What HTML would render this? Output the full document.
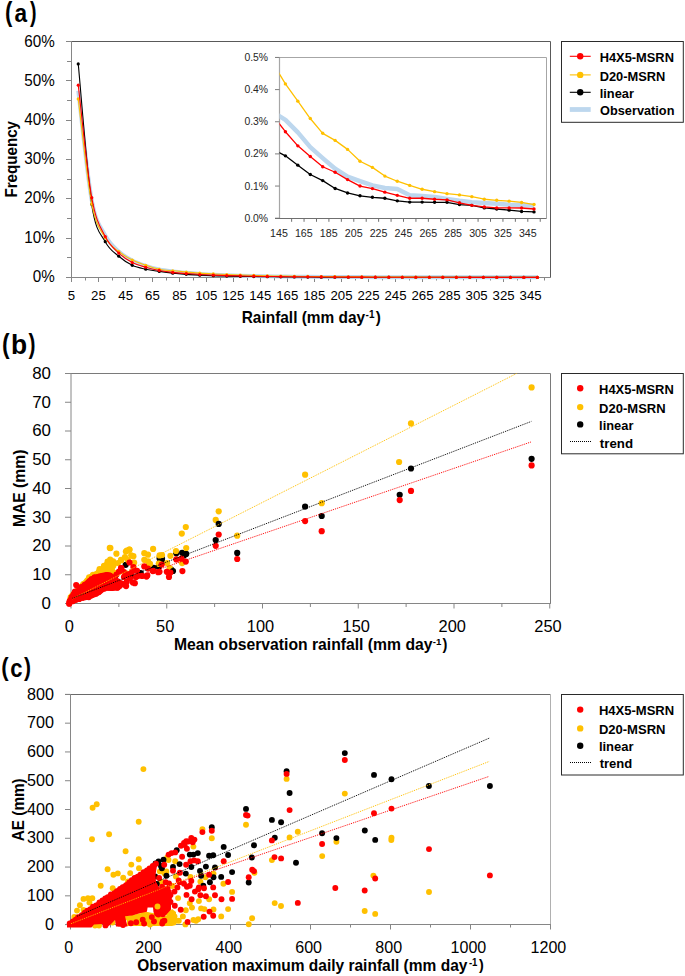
<!DOCTYPE html>
<html><head><meta charset="utf-8"><style>
html,body{margin:0;padding:0;background:#fff;}
svg{display:block;font-family:"Liberation Sans", sans-serif;}
</style></head><body>
<svg width="685" height="976" viewBox="0 0 685 976">
<rect width="685" height="976" fill="#fff"/>
<path d="M66,41.5 H550.5 V277.5" fill="none" stroke="#595959" stroke-width="1"/>
<line x1="71.50" y1="41.00" x2="71.50" y2="278.00" stroke="#868686" stroke-width="1" />
<line x1="66.00" y1="277.50" x2="71.50" y2="277.50" stroke="#868686" stroke-width="1" />
<line x1="67.00" y1="257.50" x2="71.50" y2="257.50" stroke="#868686" stroke-width="1" />
<line x1="66.00" y1="238.50" x2="71.50" y2="238.50" stroke="#868686" stroke-width="1" />
<line x1="67.00" y1="218.50" x2="71.50" y2="218.50" stroke="#868686" stroke-width="1" />
<line x1="66.00" y1="198.50" x2="71.50" y2="198.50" stroke="#868686" stroke-width="1" />
<line x1="67.00" y1="179.50" x2="71.50" y2="179.50" stroke="#868686" stroke-width="1" />
<line x1="66.00" y1="159.50" x2="71.50" y2="159.50" stroke="#868686" stroke-width="1" />
<line x1="67.00" y1="139.50" x2="71.50" y2="139.50" stroke="#868686" stroke-width="1" />
<line x1="66.00" y1="120.50" x2="71.50" y2="120.50" stroke="#868686" stroke-width="1" />
<line x1="67.00" y1="100.50" x2="71.50" y2="100.50" stroke="#868686" stroke-width="1" />
<line x1="66.00" y1="80.50" x2="71.50" y2="80.50" stroke="#868686" stroke-width="1" />
<line x1="67.00" y1="61.50" x2="71.50" y2="61.50" stroke="#868686" stroke-width="1" />
<line x1="66.00" y1="41.50" x2="71.50" y2="41.50" stroke="#868686" stroke-width="1" />
<line x1="71.00" y1="277.50" x2="551.00" y2="277.50" stroke="#868686" stroke-width="1" />
<line x1="71.50" y1="277.50" x2="71.50" y2="282.00" stroke="#868686" stroke-width="1" />
<line x1="85.50" y1="277.50" x2="85.50" y2="280.50" stroke="#868686" stroke-width="1" />
<line x1="98.50" y1="277.50" x2="98.50" y2="282.00" stroke="#868686" stroke-width="1" />
<line x1="112.50" y1="277.50" x2="112.50" y2="280.50" stroke="#868686" stroke-width="1" />
<line x1="125.50" y1="277.50" x2="125.50" y2="282.00" stroke="#868686" stroke-width="1" />
<line x1="139.50" y1="277.50" x2="139.50" y2="280.50" stroke="#868686" stroke-width="1" />
<line x1="152.50" y1="277.50" x2="152.50" y2="282.00" stroke="#868686" stroke-width="1" />
<line x1="166.50" y1="277.50" x2="166.50" y2="280.50" stroke="#868686" stroke-width="1" />
<line x1="179.50" y1="277.50" x2="179.50" y2="282.00" stroke="#868686" stroke-width="1" />
<line x1="193.50" y1="277.50" x2="193.50" y2="280.50" stroke="#868686" stroke-width="1" />
<line x1="206.50" y1="277.50" x2="206.50" y2="282.00" stroke="#868686" stroke-width="1" />
<line x1="220.50" y1="277.50" x2="220.50" y2="280.50" stroke="#868686" stroke-width="1" />
<line x1="233.50" y1="277.50" x2="233.50" y2="282.00" stroke="#868686" stroke-width="1" />
<line x1="247.50" y1="277.50" x2="247.50" y2="280.50" stroke="#868686" stroke-width="1" />
<line x1="260.50" y1="277.50" x2="260.50" y2="282.00" stroke="#868686" stroke-width="1" />
<line x1="274.50" y1="277.50" x2="274.50" y2="280.50" stroke="#868686" stroke-width="1" />
<line x1="287.50" y1="277.50" x2="287.50" y2="282.00" stroke="#868686" stroke-width="1" />
<line x1="301.50" y1="277.50" x2="301.50" y2="280.50" stroke="#868686" stroke-width="1" />
<line x1="314.50" y1="277.50" x2="314.50" y2="282.00" stroke="#868686" stroke-width="1" />
<line x1="328.50" y1="277.50" x2="328.50" y2="280.50" stroke="#868686" stroke-width="1" />
<line x1="341.50" y1="277.50" x2="341.50" y2="282.00" stroke="#868686" stroke-width="1" />
<line x1="355.50" y1="277.50" x2="355.50" y2="280.50" stroke="#868686" stroke-width="1" />
<line x1="368.50" y1="277.50" x2="368.50" y2="282.00" stroke="#868686" stroke-width="1" />
<line x1="382.50" y1="277.50" x2="382.50" y2="280.50" stroke="#868686" stroke-width="1" />
<line x1="395.50" y1="277.50" x2="395.50" y2="282.00" stroke="#868686" stroke-width="1" />
<line x1="409.50" y1="277.50" x2="409.50" y2="280.50" stroke="#868686" stroke-width="1" />
<line x1="422.50" y1="277.50" x2="422.50" y2="282.00" stroke="#868686" stroke-width="1" />
<line x1="436.50" y1="277.50" x2="436.50" y2="280.50" stroke="#868686" stroke-width="1" />
<line x1="449.50" y1="277.50" x2="449.50" y2="282.00" stroke="#868686" stroke-width="1" />
<line x1="463.50" y1="277.50" x2="463.50" y2="280.50" stroke="#868686" stroke-width="1" />
<line x1="476.50" y1="277.50" x2="476.50" y2="282.00" stroke="#868686" stroke-width="1" />
<line x1="490.50" y1="277.50" x2="490.50" y2="280.50" stroke="#868686" stroke-width="1" />
<line x1="503.50" y1="277.50" x2="503.50" y2="282.00" stroke="#868686" stroke-width="1" />
<line x1="517.50" y1="277.50" x2="517.50" y2="280.50" stroke="#868686" stroke-width="1" />
<line x1="530.50" y1="277.50" x2="530.50" y2="282.00" stroke="#868686" stroke-width="1" />
<line x1="544.50" y1="277.50" x2="544.50" y2="280.50" stroke="#868686" stroke-width="1" />
<path d="M78.25,90.67 C80.50,108.96 87.25,176.28 91.75,200.41 C96.26,224.53 100.76,226.89 105.26,235.41 C109.76,243.94 114.26,247.34 118.76,251.54 C123.26,255.74 127.76,258.19 132.26,260.59 C136.76,262.98 141.27,264.42 145.77,265.90 C150.27,267.37 154.77,268.52 159.27,269.44 C163.77,270.35 168.27,270.85 172.77,271.40 C177.27,271.96 181.77,272.37 186.28,272.78 C190.78,273.19 195.28,273.57 199.78,273.88 C204.28,274.20 208.78,274.44 213.28,274.67 C217.78,274.90 222.28,275.08 226.78,275.26 C231.29,275.44 235.79,275.60 240.29,275.73 C244.79,275.86 249.29,275.95 253.79,276.04 C258.29,276.14 262.79,276.23 267.29,276.30 C271.79,276.36 276.30,276.39 280.80,276.45 C285.30,276.51 289.80,276.58 294.30,276.63 C298.80,276.68 303.30,276.72 307.80,276.76 C312.30,276.81 316.80,276.86 321.31,276.89 C325.81,276.93 330.31,276.97 334.81,276.99 C339.31,277.02 343.81,277.03 348.31,277.05 C352.81,277.07 357.31,277.09 361.81,277.10 C366.32,277.11 370.82,277.12 375.32,277.13 C379.82,277.14 384.32,277.13 388.82,277.14 C393.32,277.16 397.82,277.20 402.32,277.22 C406.82,277.23 411.33,277.22 415.83,277.23 C420.33,277.23 424.83,277.23 429.33,277.24 C433.83,277.25 438.33,277.26 442.83,277.26 C447.33,277.27 451.83,277.28 456.34,277.29 C460.84,277.29 465.34,277.30 469.84,277.30 C474.34,277.31 478.84,277.31 483.34,277.32 C487.84,277.32 492.34,277.32 496.84,277.32 C501.35,277.33 505.85,277.33 510.35,277.33 C514.85,277.34 519.35,277.34 523.85,277.34 C528.35,277.34 535.10,277.35 537.35,277.35" fill="none" stroke="#BDD7EE" stroke-width="4" stroke-linejoin="round"/>
<path d="M78.25,63.92 C80.50,87.32 87.25,174.71 91.75,204.34 C96.26,233.97 100.76,233.05 105.26,241.71 C109.76,250.36 114.26,252.33 118.76,256.26 C123.26,260.19 127.76,263.14 132.26,265.31 C136.76,267.47 141.27,268.22 145.77,269.24 C150.27,270.26 154.77,270.75 159.27,271.40 C163.77,272.06 168.27,272.68 172.77,273.17 C177.27,273.67 181.77,274.03 186.28,274.35 C190.78,274.68 195.28,274.91 199.78,275.14 C204.28,275.37 208.78,275.57 213.28,275.73 C217.78,275.89 222.28,275.98 226.78,276.08 C231.29,276.19 235.79,276.28 240.29,276.36 C244.79,276.44 249.29,276.49 253.79,276.56 C258.29,276.62 262.79,276.69 267.29,276.74 C271.79,276.79 276.30,276.81 280.80,276.85 C285.30,276.89 289.80,276.93 294.30,276.97 C298.80,277.00 303.30,277.01 307.80,277.04 C312.30,277.07 316.80,277.11 321.31,277.14 C325.81,277.16 330.31,277.18 334.81,277.19 C339.31,277.21 343.81,277.22 348.31,277.23 C352.81,277.24 357.31,277.24 361.81,277.24 C366.32,277.25 370.82,277.25 375.32,277.26 C379.82,277.26 384.32,277.28 388.82,277.29 C393.32,277.30 397.82,277.30 402.32,277.30 C406.82,277.31 411.33,277.30 415.83,277.30 C420.33,277.30 424.83,277.31 429.33,277.31 C433.83,277.31 438.33,277.30 442.83,277.31 C447.33,277.31 451.83,277.33 456.34,277.33 C460.84,277.34 465.34,277.34 469.84,277.34 C474.34,277.35 478.84,277.37 483.34,277.37 C487.84,277.38 492.34,277.38 496.84,277.39 C501.35,277.39 505.85,277.40 510.35,277.40 C514.85,277.41 519.35,277.41 523.85,277.42 C528.35,277.42 535.10,277.42 537.35,277.42" fill="none" stroke="#000000" stroke-width="1.1"/>
<circle cx="78.25" cy="63.92" r="1.6" fill="#000000"/>
<circle cx="91.75" cy="204.34" r="1.6" fill="#000000"/>
<circle cx="105.26" cy="241.71" r="1.6" fill="#000000"/>
<circle cx="118.76" cy="256.26" r="1.6" fill="#000000"/>
<circle cx="132.26" cy="265.31" r="1.6" fill="#000000"/>
<circle cx="145.77" cy="269.24" r="1.6" fill="#000000"/>
<circle cx="159.27" cy="271.40" r="1.6" fill="#000000"/>
<circle cx="172.77" cy="273.17" r="1.6" fill="#000000"/>
<circle cx="186.28" cy="274.35" r="1.6" fill="#000000"/>
<circle cx="199.78" cy="275.14" r="1.6" fill="#000000"/>
<circle cx="213.28" cy="275.73" r="1.6" fill="#000000"/>
<circle cx="226.78" cy="276.08" r="1.6" fill="#000000"/>
<circle cx="240.29" cy="276.36" r="1.6" fill="#000000"/>
<circle cx="253.79" cy="276.56" r="1.6" fill="#000000"/>
<circle cx="267.29" cy="276.74" r="1.6" fill="#000000"/>
<circle cx="280.80" cy="276.85" r="1.6" fill="#000000"/>
<circle cx="294.30" cy="276.97" r="1.6" fill="#000000"/>
<circle cx="307.80" cy="277.04" r="1.6" fill="#000000"/>
<circle cx="321.31" cy="277.14" r="1.6" fill="#000000"/>
<circle cx="334.81" cy="277.19" r="1.6" fill="#000000"/>
<circle cx="348.31" cy="277.23" r="1.6" fill="#000000"/>
<circle cx="361.81" cy="277.24" r="1.6" fill="#000000"/>
<circle cx="375.32" cy="277.26" r="1.6" fill="#000000"/>
<circle cx="388.82" cy="277.29" r="1.6" fill="#000000"/>
<circle cx="402.32" cy="277.30" r="1.6" fill="#000000"/>
<circle cx="415.83" cy="277.30" r="1.6" fill="#000000"/>
<circle cx="429.33" cy="277.31" r="1.6" fill="#000000"/>
<circle cx="442.83" cy="277.31" r="1.6" fill="#000000"/>
<circle cx="456.34" cy="277.33" r="1.6" fill="#000000"/>
<circle cx="469.84" cy="277.34" r="1.6" fill="#000000"/>
<circle cx="483.34" cy="277.37" r="1.6" fill="#000000"/>
<circle cx="496.84" cy="277.39" r="1.6" fill="#000000"/>
<circle cx="510.35" cy="277.40" r="1.6" fill="#000000"/>
<circle cx="523.85" cy="277.42" r="1.6" fill="#000000"/>
<circle cx="537.35" cy="277.42" r="1.6" fill="#000000"/>
<path d="M78.25,98.93 C80.50,116.43 87.25,180.81 91.75,203.95 C96.26,227.09 100.76,229.84 105.26,237.77 C109.76,245.71 114.26,247.84 118.76,251.54 C123.26,255.24 127.76,257.70 132.26,260.00 C136.76,262.29 141.27,263.77 145.77,265.31 C150.27,266.85 154.77,268.32 159.27,269.24 C163.77,270.16 168.27,270.35 172.77,270.81 C177.27,271.27 181.77,271.60 186.28,271.99 C190.78,272.39 195.28,272.85 199.78,273.17 C204.28,273.50 208.78,273.73 213.28,273.96 C217.78,274.19 222.28,274.37 226.78,274.55 C231.29,274.73 235.79,274.91 240.29,275.06 C244.79,275.21 249.29,275.32 253.79,275.45 C258.29,275.59 262.79,275.75 267.29,275.86 C271.79,275.96 276.30,276.00 280.80,276.07 C285.30,276.14 289.80,276.22 294.30,276.28 C298.80,276.35 303.30,276.42 307.80,276.46 C312.30,276.51 316.80,276.52 321.31,276.55 C325.81,276.58 330.31,276.62 334.81,276.66 C339.31,276.70 343.81,276.77 348.31,276.80 C352.81,276.84 357.31,276.85 361.81,276.88 C366.32,276.91 370.82,276.96 375.32,276.98 C379.82,277.01 384.32,277.03 388.82,277.05 C393.32,277.07 397.82,277.08 402.32,277.10 C406.82,277.12 411.33,277.13 415.83,277.15 C420.33,277.16 424.83,277.17 429.33,277.18 C433.83,277.18 438.33,277.19 442.83,277.20 C447.33,277.21 451.83,277.21 456.34,277.22 C460.84,277.22 465.34,277.23 469.84,277.24 C474.34,277.25 478.84,277.26 483.34,277.27 C487.84,277.28 492.34,277.28 496.84,277.28 C501.35,277.29 505.85,277.29 510.35,277.29 C514.85,277.30 519.35,277.30 523.85,277.31 C528.35,277.31 535.10,277.33 537.35,277.33" fill="none" stroke="#FFC000" stroke-width="1.1"/>
<circle cx="78.25" cy="98.93" r="1.6" fill="#FFC000"/>
<circle cx="91.75" cy="203.95" r="1.6" fill="#FFC000"/>
<circle cx="105.26" cy="237.77" r="1.6" fill="#FFC000"/>
<circle cx="118.76" cy="251.54" r="1.6" fill="#FFC000"/>
<circle cx="132.26" cy="260.00" r="1.6" fill="#FFC000"/>
<circle cx="145.77" cy="265.31" r="1.6" fill="#FFC000"/>
<circle cx="159.27" cy="269.24" r="1.6" fill="#FFC000"/>
<circle cx="172.77" cy="270.81" r="1.6" fill="#FFC000"/>
<circle cx="186.28" cy="271.99" r="1.6" fill="#FFC000"/>
<circle cx="199.78" cy="273.17" r="1.6" fill="#FFC000"/>
<circle cx="213.28" cy="273.96" r="1.6" fill="#FFC000"/>
<circle cx="226.78" cy="274.55" r="1.6" fill="#FFC000"/>
<circle cx="240.29" cy="275.06" r="1.6" fill="#FFC000"/>
<circle cx="253.79" cy="275.45" r="1.6" fill="#FFC000"/>
<circle cx="267.29" cy="275.86" r="1.6" fill="#FFC000"/>
<circle cx="280.80" cy="276.07" r="1.6" fill="#FFC000"/>
<circle cx="294.30" cy="276.28" r="1.6" fill="#FFC000"/>
<circle cx="307.80" cy="276.46" r="1.6" fill="#FFC000"/>
<circle cx="321.31" cy="276.55" r="1.6" fill="#FFC000"/>
<circle cx="334.81" cy="276.66" r="1.6" fill="#FFC000"/>
<circle cx="348.31" cy="276.80" r="1.6" fill="#FFC000"/>
<circle cx="361.81" cy="276.88" r="1.6" fill="#FFC000"/>
<circle cx="375.32" cy="276.98" r="1.6" fill="#FFC000"/>
<circle cx="388.82" cy="277.05" r="1.6" fill="#FFC000"/>
<circle cx="402.32" cy="277.10" r="1.6" fill="#FFC000"/>
<circle cx="415.83" cy="277.15" r="1.6" fill="#FFC000"/>
<circle cx="429.33" cy="277.18" r="1.6" fill="#FFC000"/>
<circle cx="442.83" cy="277.20" r="1.6" fill="#FFC000"/>
<circle cx="456.34" cy="277.22" r="1.6" fill="#FFC000"/>
<circle cx="469.84" cy="277.24" r="1.6" fill="#FFC000"/>
<circle cx="483.34" cy="277.27" r="1.6" fill="#FFC000"/>
<circle cx="496.84" cy="277.28" r="1.6" fill="#FFC000"/>
<circle cx="510.35" cy="277.29" r="1.6" fill="#FFC000"/>
<circle cx="523.85" cy="277.31" r="1.6" fill="#FFC000"/>
<circle cx="537.35" cy="277.33" r="1.6" fill="#FFC000"/>
<path d="M78.25,85.16 C80.50,103.91 87.25,172.42 91.75,197.65 C96.26,222.89 100.76,227.35 105.26,236.59 C109.76,245.84 114.26,248.79 118.76,253.11 C123.26,257.44 127.76,260.19 132.26,262.55 C136.76,264.91 141.27,265.96 145.77,267.27 C150.27,268.58 154.77,269.57 159.27,270.42 C163.77,271.27 168.27,271.86 172.77,272.39 C177.27,272.91 181.77,273.21 186.28,273.57 C190.78,273.93 195.28,274.29 199.78,274.55 C204.28,274.81 208.78,274.96 213.28,275.14 C217.78,275.32 222.28,275.48 226.78,275.61 C231.29,275.74 235.79,275.83 240.29,275.93 C244.79,276.03 249.29,276.12 253.79,276.20 C258.29,276.29 262.79,276.37 267.29,276.44 C271.79,276.51 276.30,276.56 280.80,276.62 C285.30,276.67 289.80,276.70 294.30,276.74 C298.80,276.79 303.30,276.84 307.80,276.87 C312.30,276.90 316.80,276.91 321.31,276.94 C325.81,276.96 330.31,277.00 334.81,277.03 C339.31,277.06 343.81,277.09 348.31,277.11 C352.81,277.13 357.31,277.13 361.81,277.14 C366.32,277.15 370.82,277.17 375.32,277.18 C379.82,277.20 384.32,277.21 388.82,277.22 C393.32,277.23 397.82,277.25 402.32,277.26 C406.82,277.26 411.33,277.25 415.83,277.26 C420.33,277.26 424.83,277.26 429.33,277.27 C433.83,277.27 438.33,277.27 442.83,277.28 C447.33,277.28 451.83,277.30 456.34,277.31 C460.84,277.32 465.34,277.33 469.84,277.34 C474.34,277.35 478.84,277.36 483.34,277.36 C487.84,277.37 492.34,277.37 496.84,277.37 C501.35,277.38 505.85,277.37 510.35,277.37 C514.85,277.37 519.35,277.37 523.85,277.38 C528.35,277.38 535.10,277.39 537.35,277.39" fill="none" stroke="#FF0000" stroke-width="1.1"/>
<circle cx="78.25" cy="85.16" r="1.6" fill="#FF0000"/>
<circle cx="91.75" cy="197.65" r="1.6" fill="#FF0000"/>
<circle cx="105.26" cy="236.59" r="1.6" fill="#FF0000"/>
<circle cx="118.76" cy="253.11" r="1.6" fill="#FF0000"/>
<circle cx="132.26" cy="262.55" r="1.6" fill="#FF0000"/>
<circle cx="145.77" cy="267.27" r="1.6" fill="#FF0000"/>
<circle cx="159.27" cy="270.42" r="1.6" fill="#FF0000"/>
<circle cx="172.77" cy="272.39" r="1.6" fill="#FF0000"/>
<circle cx="186.28" cy="273.57" r="1.6" fill="#FF0000"/>
<circle cx="199.78" cy="274.55" r="1.6" fill="#FF0000"/>
<circle cx="213.28" cy="275.14" r="1.6" fill="#FF0000"/>
<circle cx="226.78" cy="275.61" r="1.6" fill="#FF0000"/>
<circle cx="240.29" cy="275.93" r="1.6" fill="#FF0000"/>
<circle cx="253.79" cy="276.20" r="1.6" fill="#FF0000"/>
<circle cx="267.29" cy="276.44" r="1.6" fill="#FF0000"/>
<circle cx="280.80" cy="276.62" r="1.6" fill="#FF0000"/>
<circle cx="294.30" cy="276.74" r="1.6" fill="#FF0000"/>
<circle cx="307.80" cy="276.87" r="1.6" fill="#FF0000"/>
<circle cx="321.31" cy="276.94" r="1.6" fill="#FF0000"/>
<circle cx="334.81" cy="277.03" r="1.6" fill="#FF0000"/>
<circle cx="348.31" cy="277.11" r="1.6" fill="#FF0000"/>
<circle cx="361.81" cy="277.14" r="1.6" fill="#FF0000"/>
<circle cx="375.32" cy="277.18" r="1.6" fill="#FF0000"/>
<circle cx="388.82" cy="277.22" r="1.6" fill="#FF0000"/>
<circle cx="402.32" cy="277.26" r="1.6" fill="#FF0000"/>
<circle cx="415.83" cy="277.26" r="1.6" fill="#FF0000"/>
<circle cx="429.33" cy="277.27" r="1.6" fill="#FF0000"/>
<circle cx="442.83" cy="277.28" r="1.6" fill="#FF0000"/>
<circle cx="456.34" cy="277.31" r="1.6" fill="#FF0000"/>
<circle cx="469.84" cy="277.34" r="1.6" fill="#FF0000"/>
<circle cx="483.34" cy="277.36" r="1.6" fill="#FF0000"/>
<circle cx="496.84" cy="277.37" r="1.6" fill="#FF0000"/>
<circle cx="510.35" cy="277.37" r="1.6" fill="#FF0000"/>
<circle cx="523.85" cy="277.38" r="1.6" fill="#FF0000"/>
<circle cx="537.35" cy="277.39" r="1.6" fill="#FF0000"/>
<rect x="279.2" y="57.4" width="267.2" height="160.8" fill="#fff"/>
<path d="M275,57.5 H546.5 V218.5" fill="none" stroke="#A6A6A6" stroke-width="1"/>
<line x1="279.50" y1="57.00" x2="279.50" y2="219.00" stroke="#A6A6A6" stroke-width="1.2" />
<line x1="275.00" y1="218.20" x2="279.50" y2="218.20" stroke="#7f7f7f" stroke-width="1" />
<line x1="275.00" y1="186.05" x2="279.50" y2="186.05" stroke="#7f7f7f" stroke-width="1" />
<line x1="275.00" y1="153.90" x2="279.50" y2="153.90" stroke="#7f7f7f" stroke-width="1" />
<line x1="275.00" y1="121.75" x2="279.50" y2="121.75" stroke="#7f7f7f" stroke-width="1" />
<line x1="275.00" y1="89.60" x2="279.50" y2="89.60" stroke="#7f7f7f" stroke-width="1" />
<line x1="275.00" y1="57.45" x2="279.50" y2="57.45" stroke="#7f7f7f" stroke-width="1" />
<line x1="275.00" y1="218.50" x2="546.50" y2="218.50" stroke="#6f6f6f" stroke-width="1" />
<line x1="291.63" y1="218.50" x2="291.63" y2="221.80" stroke="#6f6f6f" stroke-width="1" />
<line x1="304.06" y1="218.50" x2="304.06" y2="221.80" stroke="#6f6f6f" stroke-width="1" />
<line x1="316.49" y1="218.50" x2="316.49" y2="221.80" stroke="#6f6f6f" stroke-width="1" />
<line x1="328.92" y1="218.50" x2="328.92" y2="221.80" stroke="#6f6f6f" stroke-width="1" />
<line x1="341.35" y1="218.50" x2="341.35" y2="221.80" stroke="#6f6f6f" stroke-width="1" />
<line x1="353.78" y1="218.50" x2="353.78" y2="221.80" stroke="#6f6f6f" stroke-width="1" />
<line x1="366.21" y1="218.50" x2="366.21" y2="221.80" stroke="#6f6f6f" stroke-width="1" />
<line x1="378.64" y1="218.50" x2="378.64" y2="221.80" stroke="#6f6f6f" stroke-width="1" />
<line x1="391.07" y1="218.50" x2="391.07" y2="221.80" stroke="#6f6f6f" stroke-width="1" />
<line x1="403.50" y1="218.50" x2="403.50" y2="221.80" stroke="#6f6f6f" stroke-width="1" />
<line x1="415.93" y1="218.50" x2="415.93" y2="221.80" stroke="#6f6f6f" stroke-width="1" />
<line x1="428.36" y1="218.50" x2="428.36" y2="221.80" stroke="#6f6f6f" stroke-width="1" />
<line x1="440.79" y1="218.50" x2="440.79" y2="221.80" stroke="#6f6f6f" stroke-width="1" />
<line x1="453.22" y1="218.50" x2="453.22" y2="221.80" stroke="#6f6f6f" stroke-width="1" />
<line x1="465.65" y1="218.50" x2="465.65" y2="221.80" stroke="#6f6f6f" stroke-width="1" />
<line x1="478.08" y1="218.50" x2="478.08" y2="221.80" stroke="#6f6f6f" stroke-width="1" />
<line x1="490.51" y1="218.50" x2="490.51" y2="221.80" stroke="#6f6f6f" stroke-width="1" />
<line x1="502.94" y1="218.50" x2="502.94" y2="221.80" stroke="#6f6f6f" stroke-width="1" />
<line x1="515.37" y1="218.50" x2="515.37" y2="221.80" stroke="#6f6f6f" stroke-width="1" />
<line x1="527.80" y1="218.50" x2="527.80" y2="221.80" stroke="#6f6f6f" stroke-width="1" />
<line x1="540.23" y1="218.50" x2="540.23" y2="221.80" stroke="#6f6f6f" stroke-width="1" />
<clipPath id="inclip"><rect x="279.5" y="57" width="267" height="161.5"/></clipPath>
<g clip-path="url(#inclip)">
<path d="M272.99,112.10 L285.41,119.82 L297.84,132.36 L310.27,147.15 L322.70,158.08 L335.13,168.69 L347.56,176.73 L360.00,181.23 L372.43,185.41 L384.86,187.98 L397.28,189.01 L409.72,195.21 L422.14,196.02 L434.57,196.98 L447.00,198.91 L459.44,200.84 L471.87,202.12 L484.30,203.09 L496.73,203.73 L509.15,204.70 L521.59,205.02 L534.01,205.79" fill="none" stroke="#BDD7EE" stroke-width="4.5" stroke-linejoin="round"/>
<path d="M272.99,149.40 L285.41,155.83 L297.84,165.15 L310.27,174.48 L322.70,180.58 L335.13,188.46 L347.56,192.93 L360.00,195.82 L372.43,197.30 L384.86,198.27 L397.28,200.84 L409.72,202.12 L422.14,202.12 L434.57,202.32 L447.00,202.32 L459.44,204.54 L471.87,205.34 L484.30,207.91 L496.73,209.01 L509.15,210.16 L521.59,211.45 L534.01,211.90" fill="none" stroke="#000000" stroke-width="1.3" stroke-linejoin="round"/>
<circle cx="285.41" cy="155.83" r="1.7" fill="#000000"/>
<circle cx="297.84" cy="165.15" r="1.7" fill="#000000"/>
<circle cx="310.27" cy="174.48" r="1.7" fill="#000000"/>
<circle cx="322.70" cy="180.58" r="1.7" fill="#000000"/>
<circle cx="335.13" cy="188.46" r="1.7" fill="#000000"/>
<circle cx="347.56" cy="192.93" r="1.7" fill="#000000"/>
<circle cx="360.00" cy="195.82" r="1.7" fill="#000000"/>
<circle cx="372.43" cy="197.30" r="1.7" fill="#000000"/>
<circle cx="384.86" cy="198.27" r="1.7" fill="#000000"/>
<circle cx="397.28" cy="200.84" r="1.7" fill="#000000"/>
<circle cx="409.72" cy="202.12" r="1.7" fill="#000000"/>
<circle cx="422.14" cy="202.12" r="1.7" fill="#000000"/>
<circle cx="434.57" cy="202.32" r="1.7" fill="#000000"/>
<circle cx="447.00" cy="202.32" r="1.7" fill="#000000"/>
<circle cx="459.44" cy="204.54" r="1.7" fill="#000000"/>
<circle cx="471.87" cy="205.34" r="1.7" fill="#000000"/>
<circle cx="484.30" cy="207.91" r="1.7" fill="#000000"/>
<circle cx="496.73" cy="209.01" r="1.7" fill="#000000"/>
<circle cx="509.15" cy="210.16" r="1.7" fill="#000000"/>
<circle cx="521.59" cy="211.45" r="1.7" fill="#000000"/>
<circle cx="534.01" cy="211.90" r="1.7" fill="#000000"/>
<path d="M272.99,63.24 L285.41,83.91 L297.84,101.17 L310.27,118.53 L322.70,133.32 L335.13,140.40 L347.56,149.40 L360.00,161.29 L372.43,167.40 L384.86,176.08 L397.28,181.23 L409.72,185.41 L422.14,189.26 L434.57,191.64 L447.00,193.64 L459.44,194.92 L471.87,196.66 L484.30,199.23 L496.73,200.32 L509.15,201.16 L521.59,202.45 L534.01,204.54" fill="none" stroke="#FFC000" stroke-width="1.3" stroke-linejoin="round"/>
<circle cx="285.41" cy="83.91" r="1.7" fill="#FFC000"/>
<circle cx="297.84" cy="101.17" r="1.7" fill="#FFC000"/>
<circle cx="310.27" cy="118.53" r="1.7" fill="#FFC000"/>
<circle cx="322.70" cy="133.32" r="1.7" fill="#FFC000"/>
<circle cx="335.13" cy="140.40" r="1.7" fill="#FFC000"/>
<circle cx="347.56" cy="149.40" r="1.7" fill="#FFC000"/>
<circle cx="360.00" cy="161.29" r="1.7" fill="#FFC000"/>
<circle cx="372.43" cy="167.40" r="1.7" fill="#FFC000"/>
<circle cx="384.86" cy="176.08" r="1.7" fill="#FFC000"/>
<circle cx="397.28" cy="181.23" r="1.7" fill="#FFC000"/>
<circle cx="409.72" cy="185.41" r="1.7" fill="#FFC000"/>
<circle cx="422.14" cy="189.26" r="1.7" fill="#FFC000"/>
<circle cx="434.57" cy="191.64" r="1.7" fill="#FFC000"/>
<circle cx="447.00" cy="193.64" r="1.7" fill="#FFC000"/>
<circle cx="459.44" cy="194.92" r="1.7" fill="#FFC000"/>
<circle cx="471.87" cy="196.66" r="1.7" fill="#FFC000"/>
<circle cx="484.30" cy="199.23" r="1.7" fill="#FFC000"/>
<circle cx="496.73" cy="200.32" r="1.7" fill="#FFC000"/>
<circle cx="509.15" cy="201.16" r="1.7" fill="#FFC000"/>
<circle cx="521.59" cy="202.45" r="1.7" fill="#FFC000"/>
<circle cx="534.01" cy="204.54" r="1.7" fill="#FFC000"/>
<path d="M272.99,115.64 L285.41,131.72 L297.84,145.86 L310.27,156.47 L322.70,166.76 L335.13,172.23 L347.56,179.62 L360.00,186.05 L372.43,188.62 L384.86,192.16 L397.28,195.37 L409.72,198.27 L422.14,198.27 L434.57,199.23 L447.00,199.87 L459.44,202.77 L471.87,205.34 L484.30,206.95 L496.73,207.91 L509.15,207.91 L521.59,208.01 L534.01,209.01" fill="none" stroke="#FF0000" stroke-width="1.3" stroke-linejoin="round"/>
<circle cx="285.41" cy="131.72" r="1.7" fill="#FF0000"/>
<circle cx="297.84" cy="145.86" r="1.7" fill="#FF0000"/>
<circle cx="310.27" cy="156.47" r="1.7" fill="#FF0000"/>
<circle cx="322.70" cy="166.76" r="1.7" fill="#FF0000"/>
<circle cx="335.13" cy="172.23" r="1.7" fill="#FF0000"/>
<circle cx="347.56" cy="179.62" r="1.7" fill="#FF0000"/>
<circle cx="360.00" cy="186.05" r="1.7" fill="#FF0000"/>
<circle cx="372.43" cy="188.62" r="1.7" fill="#FF0000"/>
<circle cx="384.86" cy="192.16" r="1.7" fill="#FF0000"/>
<circle cx="397.28" cy="195.37" r="1.7" fill="#FF0000"/>
<circle cx="409.72" cy="198.27" r="1.7" fill="#FF0000"/>
<circle cx="422.14" cy="198.27" r="1.7" fill="#FF0000"/>
<circle cx="434.57" cy="199.23" r="1.7" fill="#FF0000"/>
<circle cx="447.00" cy="199.87" r="1.7" fill="#FF0000"/>
<circle cx="459.44" cy="202.77" r="1.7" fill="#FF0000"/>
<circle cx="471.87" cy="205.34" r="1.7" fill="#FF0000"/>
<circle cx="484.30" cy="206.95" r="1.7" fill="#FF0000"/>
<circle cx="496.73" cy="207.91" r="1.7" fill="#FF0000"/>
<circle cx="509.15" cy="207.91" r="1.7" fill="#FF0000"/>
<circle cx="521.59" cy="208.01" r="1.7" fill="#FF0000"/>
<circle cx="534.01" cy="209.01" r="1.7" fill="#FF0000"/>
</g>
<rect x="561.5" y="41.5" width="121.8" height="80.8" fill="#fff" stroke="#2a2a2a" stroke-width="1"/>
<line x1="569.80" y1="56.30" x2="590.70" y2="56.30" stroke="#FF0000" stroke-width="1.1" />
<circle cx="580.20" cy="56.30" r="3.2" fill="#FF0000"/>
<line x1="569.80" y1="74.90" x2="590.70" y2="74.90" stroke="#FFC000" stroke-width="1.1" />
<circle cx="580.20" cy="74.90" r="3.2" fill="#FFC000"/>
<line x1="569.80" y1="92.30" x2="590.70" y2="92.30" stroke="#000000" stroke-width="1.1" />
<circle cx="580.20" cy="92.30" r="3.2" fill="#000000"/>
<line x1="569.80" y1="109.50" x2="590.70" y2="109.50" stroke="#BDD7EE" stroke-width="4.8" />
<path d="M65.5,373.5 H550.5 V603.5" fill="none" stroke="#7a7a7a" stroke-width="1"/>
<line x1="71.00" y1="373.00" x2="71.00" y2="604.00" stroke="#868686" stroke-width="1" />
<line x1="65.00" y1="603.50" x2="71.00" y2="603.50" stroke="#868686" stroke-width="1" />
<line x1="65.00" y1="574.75" x2="71.00" y2="574.75" stroke="#868686" stroke-width="1" />
<line x1="65.00" y1="546.00" x2="71.00" y2="546.00" stroke="#868686" stroke-width="1" />
<line x1="65.00" y1="517.25" x2="71.00" y2="517.25" stroke="#868686" stroke-width="1" />
<line x1="65.00" y1="488.50" x2="71.00" y2="488.50" stroke="#868686" stroke-width="1" />
<line x1="65.00" y1="459.75" x2="71.00" y2="459.75" stroke="#868686" stroke-width="1" />
<line x1="65.00" y1="431.00" x2="71.00" y2="431.00" stroke="#868686" stroke-width="1" />
<line x1="65.00" y1="402.25" x2="71.00" y2="402.25" stroke="#868686" stroke-width="1" />
<line x1="65.00" y1="373.50" x2="71.00" y2="373.50" stroke="#868686" stroke-width="1" />
<line x1="70.50" y1="603.50" x2="551.00" y2="603.50" stroke="#868686" stroke-width="1" />
<line x1="71.00" y1="603.50" x2="71.00" y2="608.50" stroke="#868686" stroke-width="1" />
<line x1="118.88" y1="603.50" x2="118.88" y2="607.00" stroke="#868686" stroke-width="1" />
<line x1="166.75" y1="603.50" x2="166.75" y2="608.50" stroke="#868686" stroke-width="1" />
<line x1="214.62" y1="603.50" x2="214.62" y2="607.00" stroke="#868686" stroke-width="1" />
<line x1="262.50" y1="603.50" x2="262.50" y2="608.50" stroke="#868686" stroke-width="1" />
<line x1="310.38" y1="603.50" x2="310.38" y2="607.00" stroke="#868686" stroke-width="1" />
<line x1="358.25" y1="603.50" x2="358.25" y2="608.50" stroke="#868686" stroke-width="1" />
<line x1="406.12" y1="603.50" x2="406.12" y2="607.00" stroke="#868686" stroke-width="1" />
<line x1="454.00" y1="603.50" x2="454.00" y2="608.50" stroke="#868686" stroke-width="1" />
<line x1="501.88" y1="603.50" x2="501.88" y2="607.00" stroke="#868686" stroke-width="1" />
<line x1="549.75" y1="603.50" x2="549.75" y2="608.50" stroke="#868686" stroke-width="1" />
<circle cx="125.70" cy="564.80" r="3.1" fill="#000000"/>
<circle cx="162.00" cy="558.70" r="3.1" fill="#000000"/>
<circle cx="161.70" cy="561.00" r="3.1" fill="#000000"/>
<circle cx="176.30" cy="553.30" r="3.1" fill="#000000"/>
<circle cx="182.10" cy="552.80" r="3.1" fill="#000000"/>
<circle cx="186.20" cy="553.90" r="3.1" fill="#000000"/>
<circle cx="140.70" cy="573.00" r="3.1" fill="#000000"/>
<circle cx="153.80" cy="567.80" r="3.1" fill="#000000"/>
<circle cx="159.60" cy="558.40" r="3.1" fill="#000000"/>
<circle cx="171.20" cy="569.60" r="3.1" fill="#000000"/>
<circle cx="158.80" cy="566.70" r="3.1" fill="#000000"/>
<circle cx="115.10" cy="575.90" r="3.1" fill="#000000"/>
<circle cx="131.00" cy="576.00" r="3.1" fill="#000000"/>
<circle cx="100.00" cy="585.00" r="3.1" fill="#000000"/>
<circle cx="90.00" cy="590.00" r="3.1" fill="#000000"/>
<circle cx="104.00" cy="582.00" r="3.1" fill="#000000"/>
<path d="M70.50,599.45 L72.10,595.45 L76.00,591.95 L81.30,586.45 L85.00,582.95 L89.50,577.95 L93.00,575.45 L96.70,574.45 L101.80,569.45 L106.90,564.45 L109.90,561.95 L112.00,565.95 L112.00,577.05 L100.00,582.05 L90.00,587.05 L80.00,593.05 L70.50,597.05 Z" fill="#FFC000" stroke="#FFC000" stroke-width="5.89" stroke-linejoin="round"/>
<circle cx="70.45" cy="599.53" r="3.1" fill="#FFC000"/>
<circle cx="72.52" cy="595.40" r="3.1" fill="#FFC000"/>
<circle cx="74.06" cy="593.82" r="3.1" fill="#FFC000"/>
<circle cx="75.68" cy="591.96" r="3.1" fill="#FFC000"/>
<circle cx="77.90" cy="590.52" r="3.1" fill="#FFC000"/>
<circle cx="79.13" cy="588.00" r="3.1" fill="#FFC000"/>
<circle cx="80.89" cy="586.88" r="3.1" fill="#FFC000"/>
<circle cx="83.34" cy="584.05" r="3.1" fill="#FFC000"/>
<circle cx="85.48" cy="583.60" r="3.1" fill="#FFC000"/>
<circle cx="87.40" cy="580.61" r="3.1" fill="#FFC000"/>
<circle cx="89.16" cy="577.27" r="3.1" fill="#FFC000"/>
<circle cx="93.03" cy="574.83" r="3.1" fill="#FFC000"/>
<circle cx="96.39" cy="574.08" r="3.1" fill="#FFC000"/>
<circle cx="98.78" cy="571.89" r="3.1" fill="#FFC000"/>
<circle cx="101.74" cy="569.92" r="3.1" fill="#FFC000"/>
<circle cx="104.37" cy="567.14" r="3.1" fill="#FFC000"/>
<circle cx="106.90" cy="564.67" r="3.1" fill="#FFC000"/>
<circle cx="109.86" cy="561.63" r="3.1" fill="#FFC000"/>
<circle cx="71.00" cy="597.75" r="3.1" fill="#FFC000"/>
<circle cx="73.22" cy="596.35" r="3.1" fill="#FFC000"/>
<circle cx="75.07" cy="594.68" r="3.1" fill="#FFC000"/>
<circle cx="77.41" cy="593.45" r="3.1" fill="#FFC000"/>
<circle cx="80.27" cy="592.92" r="3.1" fill="#FFC000"/>
<circle cx="82.85" cy="591.40" r="3.1" fill="#FFC000"/>
<circle cx="85.46" cy="590.54" r="3.1" fill="#FFC000"/>
<circle cx="87.00" cy="588.15" r="3.1" fill="#FFC000"/>
<circle cx="90.41" cy="587.01" r="3.1" fill="#FFC000"/>
<circle cx="92.98" cy="585.66" r="3.1" fill="#FFC000"/>
<circle cx="94.57" cy="584.74" r="3.1" fill="#FFC000"/>
<circle cx="97.78" cy="582.98" r="3.1" fill="#FFC000"/>
<circle cx="99.59" cy="581.82" r="3.1" fill="#FFC000"/>
<circle cx="102.86" cy="581.42" r="3.1" fill="#FFC000"/>
<circle cx="104.42" cy="579.70" r="3.1" fill="#FFC000"/>
<circle cx="106.80" cy="578.44" r="3.1" fill="#FFC000"/>
<circle cx="109.90" cy="577.60" r="3.1" fill="#FFC000"/>
<circle cx="109.80" cy="547.90" r="3.1" fill="#FFC000"/>
<circle cx="116.40" cy="553.70" r="3.1" fill="#FFC000"/>
<circle cx="110.20" cy="559.60" r="3.1" fill="#FFC000"/>
<circle cx="113.10" cy="561.40" r="3.1" fill="#FFC000"/>
<circle cx="121.10" cy="559.90" r="3.1" fill="#FFC000"/>
<circle cx="125.90" cy="551.50" r="3.1" fill="#FFC000"/>
<circle cx="129.50" cy="549.70" r="3.1" fill="#FFC000"/>
<circle cx="104.00" cy="565.80" r="3.1" fill="#FFC000"/>
<circle cx="110.40" cy="548.10" r="3.1" fill="#FFC000"/>
<circle cx="126.80" cy="550.70" r="3.1" fill="#FFC000"/>
<circle cx="129.30" cy="549.60" r="3.1" fill="#FFC000"/>
<circle cx="121.30" cy="560.20" r="3.1" fill="#FFC000"/>
<circle cx="131.20" cy="555.40" r="3.1" fill="#FFC000"/>
<circle cx="133.40" cy="556.20" r="3.1" fill="#FFC000"/>
<circle cx="134.10" cy="562.70" r="3.1" fill="#FFC000"/>
<circle cx="112.20" cy="562.00" r="3.1" fill="#FFC000"/>
<circle cx="113.30" cy="565.70" r="3.1" fill="#FFC000"/>
<circle cx="115.80" cy="573.00" r="3.1" fill="#FFC000"/>
<circle cx="144.30" cy="553.20" r="3.1" fill="#FFC000"/>
<circle cx="148.00" cy="554.70" r="3.1" fill="#FFC000"/>
<circle cx="153.10" cy="548.90" r="3.1" fill="#FFC000"/>
<circle cx="144.30" cy="559.80" r="3.1" fill="#FFC000"/>
<circle cx="148.00" cy="561.30" r="3.1" fill="#FFC000"/>
<circle cx="149.40" cy="564.20" r="3.1" fill="#FFC000"/>
<circle cx="158.90" cy="563.50" r="3.1" fill="#FFC000"/>
<circle cx="159.60" cy="555.40" r="3.1" fill="#FFC000"/>
<circle cx="185.80" cy="527.00" r="3.1" fill="#FFC000"/>
<circle cx="181.80" cy="533.60" r="3.1" fill="#FFC000"/>
<circle cx="162.00" cy="555.00" r="3.1" fill="#FFC000"/>
<circle cx="170.40" cy="555.80" r="3.1" fill="#FFC000"/>
<circle cx="176.00" cy="551.00" r="3.1" fill="#FFC000"/>
<circle cx="186.20" cy="548.00" r="3.1" fill="#FFC000"/>
<circle cx="167.10" cy="563.10" r="3.1" fill="#FFC000"/>
<circle cx="158.80" cy="563.80" r="3.1" fill="#FFC000"/>
<circle cx="182.10" cy="563.10" r="3.1" fill="#FFC000"/>
<circle cx="169.70" cy="568.20" r="3.1" fill="#FFC000"/>
<circle cx="150.00" cy="563.80" r="3.1" fill="#FFC000"/>
<circle cx="218.70" cy="511.30" r="3.1" fill="#FFC000"/>
<circle cx="215.70" cy="519.90" r="3.1" fill="#FFC000"/>
<circle cx="237.20" cy="535.70" r="3.1" fill="#FFC000"/>
<circle cx="305.10" cy="474.70" r="3.1" fill="#FFC000"/>
<circle cx="321.70" cy="503.20" r="3.1" fill="#FFC000"/>
<circle cx="399.10" cy="462.00" r="3.1" fill="#FFC000"/>
<circle cx="411.00" cy="423.40" r="3.1" fill="#FFC000"/>
<circle cx="531.60" cy="387.40" r="3.1" fill="#FFC000"/>
<circle cx="107.60" cy="561.50" r="3.1" fill="#FFC000"/>
<circle cx="99.60" cy="569.00" r="3.1" fill="#FFC000"/>
<circle cx="125.00" cy="557.00" r="3.1" fill="#FFC000"/>
<circle cx="128.00" cy="560.00" r="3.1" fill="#FFC000"/>
<circle cx="118.00" cy="563.00" r="3.1" fill="#FFC000"/>
<circle cx="218.70" cy="523.90" r="3.1" fill="#000000"/>
<circle cx="215.70" cy="540.10" r="3.1" fill="#000000"/>
<circle cx="237.20" cy="552.90" r="3.1" fill="#000000"/>
<circle cx="305.10" cy="506.70" r="3.1" fill="#000000"/>
<circle cx="321.70" cy="516.00" r="3.1" fill="#000000"/>
<circle cx="399.70" cy="494.80" r="3.1" fill="#000000"/>
<circle cx="411.00" cy="468.50" r="3.1" fill="#000000"/>
<circle cx="531.60" cy="458.80" r="3.1" fill="#000000"/>
<circle cx="184.00" cy="555.50" r="3.1" fill="#000000"/>
<circle cx="173.00" cy="571.00" r="3.1" fill="#000000"/>
<path d="M69.50,603.45 L72.00,596.95 L75.00,591.95 L78.00,591.45 L81.30,587.45 L85.00,585.45 L89.50,580.95 L94.60,577.95 L101.80,575.95 L106.90,574.95 L110.00,575.65 L114.00,578.15 L117.10,581.75 L120.00,582.95 L120.00,586.05 L117.50,587.25 L108.80,587.75 L104.20,587.85 L100.70,590.75 L96.00,593.65 L91.40,595.45 L88.40,596.55 L82.60,597.75 L75.60,599.45 L69.50,601.55 Z" fill="#FF0000" stroke="#FF0000" stroke-width="5.89" stroke-linejoin="round"/>
<circle cx="69.16" cy="603.71" r="3.1" fill="#FF0000"/>
<circle cx="70.88" cy="600.17" r="3.1" fill="#FF0000"/>
<circle cx="71.72" cy="597.35" r="3.1" fill="#FF0000"/>
<circle cx="73.81" cy="594.46" r="3.1" fill="#FF0000"/>
<circle cx="75.01" cy="591.58" r="3.1" fill="#FF0000"/>
<circle cx="77.50" cy="591.26" r="3.1" fill="#FF0000"/>
<circle cx="79.74" cy="588.84" r="3.1" fill="#FF0000"/>
<circle cx="81.59" cy="587.07" r="3.1" fill="#FF0000"/>
<circle cx="84.73" cy="584.80" r="3.1" fill="#FF0000"/>
<circle cx="87.75" cy="583.53" r="3.1" fill="#FF0000"/>
<circle cx="89.88" cy="581.11" r="3.1" fill="#FF0000"/>
<circle cx="91.58" cy="579.21" r="3.1" fill="#FF0000"/>
<circle cx="94.60" cy="577.41" r="3.1" fill="#FF0000"/>
<circle cx="98.65" cy="576.76" r="3.1" fill="#FF0000"/>
<circle cx="101.45" cy="576.39" r="3.1" fill="#FF0000"/>
<circle cx="103.97" cy="576.04" r="3.1" fill="#FF0000"/>
<circle cx="106.85" cy="575.02" r="3.1" fill="#FF0000"/>
<circle cx="109.84" cy="575.62" r="3.1" fill="#FF0000"/>
<circle cx="113.69" cy="577.50" r="3.1" fill="#FF0000"/>
<circle cx="117.47" cy="581.37" r="3.1" fill="#FF0000"/>
<circle cx="69.78" cy="601.15" r="3.1" fill="#FF0000"/>
<circle cx="73.02" cy="601.06" r="3.1" fill="#FF0000"/>
<circle cx="75.85" cy="599.82" r="3.1" fill="#FF0000"/>
<circle cx="79.18" cy="598.93" r="3.1" fill="#FF0000"/>
<circle cx="82.22" cy="597.72" r="3.1" fill="#FF0000"/>
<circle cx="85.83" cy="596.74" r="3.1" fill="#FF0000"/>
<circle cx="88.82" cy="597.10" r="3.1" fill="#FF0000"/>
<circle cx="91.31" cy="595.27" r="3.1" fill="#FF0000"/>
<circle cx="95.95" cy="593.50" r="3.1" fill="#FF0000"/>
<circle cx="98.84" cy="592.05" r="3.1" fill="#FF0000"/>
<circle cx="100.23" cy="590.19" r="3.1" fill="#FF0000"/>
<circle cx="104.42" cy="588.54" r="3.1" fill="#FF0000"/>
<circle cx="108.80" cy="587.74" r="3.1" fill="#FF0000"/>
<circle cx="111.75" cy="587.94" r="3.1" fill="#FF0000"/>
<circle cx="114.32" cy="587.57" r="3.1" fill="#FF0000"/>
<circle cx="117.56" cy="587.43" r="3.1" fill="#FF0000"/>
<circle cx="76.20" cy="585.00" r="3.1" fill="#FF0000"/>
<circle cx="121.10" cy="568.00" r="3.1" fill="#FF0000"/>
<circle cx="129.50" cy="562.50" r="3.1" fill="#FF0000"/>
<circle cx="121.30" cy="568.20" r="3.1" fill="#FF0000"/>
<circle cx="133.40" cy="567.10" r="3.1" fill="#FF0000"/>
<circle cx="137.00" cy="570.80" r="3.1" fill="#FF0000"/>
<circle cx="144.30" cy="566.40" r="3.1" fill="#FF0000"/>
<circle cx="148.00" cy="568.60" r="3.1" fill="#FF0000"/>
<circle cx="153.10" cy="570.80" r="3.1" fill="#FF0000"/>
<circle cx="158.20" cy="572.20" r="3.1" fill="#FF0000"/>
<circle cx="142.10" cy="575.90" r="3.1" fill="#FF0000"/>
<circle cx="146.50" cy="576.60" r="3.1" fill="#FF0000"/>
<circle cx="126.80" cy="581.70" r="3.1" fill="#FF0000"/>
<circle cx="126.10" cy="586.10" r="3.1" fill="#FF0000"/>
<circle cx="134.80" cy="583.20" r="3.1" fill="#FF0000"/>
<circle cx="117.30" cy="587.60" r="3.1" fill="#FF0000"/>
<circle cx="152.90" cy="571.10" r="3.1" fill="#FF0000"/>
<circle cx="159.50" cy="571.80" r="3.1" fill="#FF0000"/>
<circle cx="161.70" cy="564.50" r="3.1" fill="#FF0000"/>
<circle cx="166.80" cy="571.80" r="3.1" fill="#FF0000"/>
<circle cx="170.40" cy="572.60" r="3.1" fill="#FF0000"/>
<circle cx="169.00" cy="576.90" r="3.1" fill="#FF0000"/>
<circle cx="176.30" cy="559.40" r="3.1" fill="#FF0000"/>
<circle cx="181.40" cy="558.70" r="3.1" fill="#FF0000"/>
<circle cx="185.80" cy="561.60" r="3.1" fill="#FF0000"/>
<circle cx="182.40" cy="571.10" r="3.1" fill="#FF0000"/>
<circle cx="218.70" cy="534.50" r="3.1" fill="#FF0000"/>
<circle cx="215.70" cy="545.80" r="3.1" fill="#FF0000"/>
<circle cx="237.20" cy="559.00" r="3.1" fill="#FF0000"/>
<circle cx="305.10" cy="521.10" r="3.1" fill="#FF0000"/>
<circle cx="321.70" cy="531.20" r="3.1" fill="#FF0000"/>
<circle cx="399.70" cy="500.10" r="3.1" fill="#FF0000"/>
<circle cx="411.00" cy="490.90" r="3.1" fill="#FF0000"/>
<circle cx="531.60" cy="465.40" r="3.1" fill="#FF0000"/>
<circle cx="132.90" cy="582.40" r="3.1" fill="#FF0000"/>
<circle cx="138.20" cy="575.80" r="3.1" fill="#FF0000"/>
<circle cx="124.00" cy="572.00" r="3.1" fill="#FF0000"/>
<circle cx="128.00" cy="574.00" r="3.1" fill="#FF0000"/>
<circle cx="132.00" cy="572.00" r="3.1" fill="#FF0000"/>
<circle cx="124.00" cy="577.00" r="3.1" fill="#FF0000"/>
<circle cx="130.00" cy="578.00" r="3.1" fill="#FF0000"/>
<circle cx="121.00" cy="583.30" r="3.1" fill="#FF0000"/>
<circle cx="124.50" cy="584.50" r="3.1" fill="#FF0000"/>
<circle cx="136.00" cy="577.00" r="3.1" fill="#FF0000"/>
<circle cx="147.30" cy="575.40" r="3.1" fill="#FF0000"/>
<circle cx="116.50" cy="574.50" r="3.1" fill="#FF0000"/>
<circle cx="119.00" cy="571.50" r="3.1" fill="#FF0000"/>
<line x1="72" y1="599.0" x2="516.6" y2="373.5" stroke="#FFC000" stroke-width="1" stroke-dasharray="1 1"/>
<line x1="72" y1="598.5" x2="531.4" y2="421.4" stroke="#000000" stroke-width="1" stroke-dasharray="1 1"/>
<line x1="72" y1="599.1" x2="531.8" y2="441.7" stroke="#FF0000" stroke-width="1" stroke-dasharray="1 1"/>
<rect x="561.5" y="373.5" width="121.8" height="80.3" fill="#fff" stroke="#2a2a2a" stroke-width="1"/>
<circle cx="580.20" cy="388.30" r="3.2" fill="#FF0000"/>
<circle cx="580.20" cy="407.10" r="3.2" fill="#FFC000"/>
<circle cx="580.20" cy="424.40" r="3.2" fill="#000000"/>
<line x1="570.00" y1="441.50" x2="591.00" y2="441.50" stroke="#000000" stroke-width="1" stroke-dasharray="1 1"/>
<path d="M65,694.5 H550.5" fill="none" stroke="#6a6a6a" stroke-width="1"/>
<path d="M550.5,694.5 V924.5" fill="none" stroke="#b0b0b0" stroke-width="1"/>
<line x1="70.50" y1="694.00" x2="70.50" y2="925.00" stroke="#868686" stroke-width="1" />
<line x1="65.00" y1="924.60" x2="70.50" y2="924.60" stroke="#868686" stroke-width="1" />
<line x1="65.00" y1="895.83" x2="70.50" y2="895.83" stroke="#868686" stroke-width="1" />
<line x1="65.00" y1="867.05" x2="70.50" y2="867.05" stroke="#868686" stroke-width="1" />
<line x1="65.00" y1="838.27" x2="70.50" y2="838.27" stroke="#868686" stroke-width="1" />
<line x1="65.00" y1="809.50" x2="70.50" y2="809.50" stroke="#868686" stroke-width="1" />
<line x1="65.00" y1="780.73" x2="70.50" y2="780.73" stroke="#868686" stroke-width="1" />
<line x1="65.00" y1="751.95" x2="70.50" y2="751.95" stroke="#868686" stroke-width="1" />
<line x1="65.00" y1="723.17" x2="70.50" y2="723.17" stroke="#868686" stroke-width="1" />
<line x1="65.00" y1="694.40" x2="70.50" y2="694.40" stroke="#868686" stroke-width="1" />
<line x1="70.00" y1="924.50" x2="551.00" y2="924.50" stroke="#868686" stroke-width="1" />
<line x1="70.50" y1="924.50" x2="70.50" y2="929.50" stroke="#868686" stroke-width="1" />
<line x1="110.50" y1="924.50" x2="110.50" y2="927.50" stroke="#868686" stroke-width="1" />
<line x1="150.50" y1="924.50" x2="150.50" y2="929.50" stroke="#868686" stroke-width="1" />
<line x1="190.50" y1="924.50" x2="190.50" y2="927.50" stroke="#868686" stroke-width="1" />
<line x1="230.50" y1="924.50" x2="230.50" y2="929.50" stroke="#868686" stroke-width="1" />
<line x1="270.50" y1="924.50" x2="270.50" y2="927.50" stroke="#868686" stroke-width="1" />
<line x1="310.50" y1="924.50" x2="310.50" y2="929.50" stroke="#868686" stroke-width="1" />
<line x1="350.50" y1="924.50" x2="350.50" y2="927.50" stroke="#868686" stroke-width="1" />
<line x1="390.50" y1="924.50" x2="390.50" y2="929.50" stroke="#868686" stroke-width="1" />
<line x1="430.50" y1="924.50" x2="430.50" y2="927.50" stroke="#868686" stroke-width="1" />
<line x1="470.50" y1="924.50" x2="470.50" y2="929.50" stroke="#868686" stroke-width="1" />
<line x1="510.50" y1="924.50" x2="510.50" y2="927.50" stroke="#868686" stroke-width="1" />
<line x1="550.50" y1="924.50" x2="550.50" y2="929.50" stroke="#868686" stroke-width="1" />
<path d="M127,926 L127,916 L147,912 L153,913 L166,916 L172,909 L176,912 L176,925 L172,926 Z" fill="#FFC000"/>
<circle cx="143.40" cy="769.10" r="2.95" fill="#FFC000"/>
<circle cx="92.60" cy="807.70" r="2.95" fill="#FFC000"/>
<circle cx="96.70" cy="804.20" r="2.95" fill="#FFC000"/>
<circle cx="138.70" cy="821.80" r="2.95" fill="#FFC000"/>
<circle cx="109.10" cy="834.20" r="2.95" fill="#FFC000"/>
<circle cx="92.00" cy="839.30" r="2.95" fill="#FFC000"/>
<circle cx="125.60" cy="851.20" r="2.95" fill="#FFC000"/>
<circle cx="138.70" cy="859.30" r="2.95" fill="#FFC000"/>
<circle cx="131.30" cy="864.60" r="2.95" fill="#FFC000"/>
<circle cx="139.00" cy="868.20" r="2.95" fill="#FFC000"/>
<circle cx="107.60" cy="869.30" r="2.95" fill="#FFC000"/>
<circle cx="113.40" cy="874.80" r="2.95" fill="#FFC000"/>
<circle cx="117.80" cy="873.40" r="2.95" fill="#FFC000"/>
<circle cx="123.20" cy="877.70" r="2.95" fill="#FFC000"/>
<circle cx="130.20" cy="873.10" r="2.95" fill="#FFC000"/>
<circle cx="100.70" cy="885.80" r="2.95" fill="#FFC000"/>
<circle cx="112.70" cy="888.20" r="2.95" fill="#FFC000"/>
<circle cx="128.00" cy="881.40" r="2.95" fill="#FFC000"/>
<circle cx="83.50" cy="898.90" r="2.95" fill="#FFC000"/>
<circle cx="87.90" cy="898.20" r="2.95" fill="#FFC000"/>
<circle cx="92.30" cy="898.20" r="2.95" fill="#FFC000"/>
<circle cx="89.40" cy="902.60" r="2.95" fill="#FFC000"/>
<circle cx="79.90" cy="905.20" r="2.95" fill="#FFC000"/>
<circle cx="77.00" cy="910.60" r="2.95" fill="#FFC000"/>
<circle cx="83.50" cy="909.90" r="2.95" fill="#FFC000"/>
<circle cx="74.30" cy="917.00" r="2.95" fill="#FFC000"/>
<circle cx="95.00" cy="925.50" r="2.95" fill="#FFC000"/>
<circle cx="99.00" cy="925.50" r="2.95" fill="#FFC000"/>
<circle cx="112.50" cy="922.50" r="2.95" fill="#FFC000"/>
<circle cx="125.70" cy="917.50" r="2.95" fill="#FFC000"/>
<circle cx="133.20" cy="917.20" r="2.95" fill="#FFC000"/>
<circle cx="139.00" cy="916.40" r="2.95" fill="#FFC000"/>
<circle cx="143.40" cy="914.20" r="2.95" fill="#FFC000"/>
<circle cx="147.80" cy="917.90" r="2.95" fill="#FFC000"/>
<circle cx="153.60" cy="918.60" r="2.95" fill="#FFC000"/>
<circle cx="156.50" cy="914.20" r="2.95" fill="#FFC000"/>
<circle cx="160.90" cy="918.60" r="2.95" fill="#FFC000"/>
<circle cx="157.70" cy="906.90" r="2.95" fill="#FFC000"/>
<circle cx="167.20" cy="857.50" r="2.95" fill="#FFC000"/>
<circle cx="193.40" cy="846.60" r="2.95" fill="#FFC000"/>
<circle cx="175.20" cy="861.20" r="2.95" fill="#FFC000"/>
<circle cx="159.90" cy="871.40" r="2.95" fill="#FFC000"/>
<circle cx="166.40" cy="871.40" r="2.95" fill="#FFC000"/>
<circle cx="175.90" cy="876.50" r="2.95" fill="#FFC000"/>
<circle cx="190.50" cy="876.90" r="2.95" fill="#FFC000"/>
<circle cx="172.30" cy="886.00" r="2.95" fill="#FFC000"/>
<circle cx="178.10" cy="898.10" r="2.95" fill="#FFC000"/>
<circle cx="185.80" cy="910.20" r="2.95" fill="#FFC000"/>
<circle cx="189.80" cy="903.20" r="2.95" fill="#FFC000"/>
<circle cx="192.00" cy="907.60" r="2.95" fill="#FFC000"/>
<circle cx="174.50" cy="916.40" r="2.95" fill="#FFC000"/>
<circle cx="182.90" cy="916.40" r="2.95" fill="#FFC000"/>
<circle cx="175.90" cy="920.80" r="2.95" fill="#FFC000"/>
<circle cx="178.80" cy="920.80" r="2.95" fill="#FFC000"/>
<circle cx="169.40" cy="912.70" r="2.95" fill="#FFC000"/>
<circle cx="167.90" cy="921.50" r="2.95" fill="#FFC000"/>
<circle cx="185.40" cy="924.40" r="2.95" fill="#FFC000"/>
<circle cx="193.40" cy="920.00" r="2.95" fill="#FFC000"/>
<circle cx="213.50" cy="873.60" r="2.95" fill="#FFC000"/>
<circle cx="205.50" cy="877.20" r="2.95" fill="#FFC000"/>
<circle cx="200.40" cy="881.60" r="2.95" fill="#FFC000"/>
<circle cx="223.40" cy="883.80" r="2.95" fill="#FFC000"/>
<circle cx="232.10" cy="891.90" r="2.95" fill="#FFC000"/>
<circle cx="209.10" cy="899.20" r="2.95" fill="#FFC000"/>
<circle cx="198.90" cy="901.10" r="2.95" fill="#FFC000"/>
<circle cx="201.10" cy="908.40" r="2.95" fill="#FFC000"/>
<circle cx="204.40" cy="909.10" r="2.95" fill="#FFC000"/>
<circle cx="213.50" cy="909.50" r="2.95" fill="#FFC000"/>
<circle cx="228.10" cy="909.10" r="2.95" fill="#FFC000"/>
<circle cx="221.20" cy="916.40" r="2.95" fill="#FFC000"/>
<circle cx="198.20" cy="919.30" r="2.95" fill="#FFC000"/>
<circle cx="196.00" cy="920.80" r="2.95" fill="#FFC000"/>
<circle cx="271.90" cy="860.10" r="2.95" fill="#FFC000"/>
<circle cx="254.40" cy="872.80" r="2.95" fill="#FFC000"/>
<circle cx="274.70" cy="903.10" r="2.95" fill="#FFC000"/>
<circle cx="281.00" cy="906.00" r="2.95" fill="#FFC000"/>
<circle cx="252.10" cy="918.20" r="2.95" fill="#FFC000"/>
<circle cx="248.80" cy="924.20" r="2.95" fill="#FFC000"/>
<circle cx="202.40" cy="829.30" r="2.95" fill="#FFC000"/>
<circle cx="211.80" cy="838.20" r="2.95" fill="#FFC000"/>
<circle cx="246.00" cy="824.70" r="2.95" fill="#FFC000"/>
<circle cx="286.60" cy="778.90" r="2.95" fill="#FFC000"/>
<circle cx="297.80" cy="831.80" r="2.95" fill="#FFC000"/>
<circle cx="289.60" cy="837.40" r="2.95" fill="#FFC000"/>
<circle cx="344.80" cy="793.60" r="2.95" fill="#FFC000"/>
<circle cx="336.40" cy="841.80" r="2.95" fill="#FFC000"/>
<circle cx="391.50" cy="837.70" r="2.95" fill="#FFC000"/>
<circle cx="322.20" cy="856.10" r="2.95" fill="#FFC000"/>
<circle cx="391.30" cy="840.00" r="2.95" fill="#FFC000"/>
<circle cx="373.40" cy="875.60" r="2.95" fill="#FFC000"/>
<circle cx="429.00" cy="892.00" r="2.95" fill="#FFC000"/>
<circle cx="364.70" cy="911.00" r="2.95" fill="#FFC000"/>
<circle cx="375.20" cy="913.90" r="2.95" fill="#FFC000"/>
<circle cx="164.40" cy="873.30" r="2.95" fill="#FFC000"/>
<circle cx="168.50" cy="860.00" r="2.95" fill="#FFC000"/>
<circle cx="161.40" cy="882.00" r="2.95" fill="#FFC000"/>
<circle cx="157.80" cy="918.10" r="2.95" fill="#FFC000"/>
<circle cx="167.00" cy="912.50" r="2.95" fill="#FFC000"/>
<circle cx="146.50" cy="915.00" r="2.95" fill="#FFC000"/>
<circle cx="146.50" cy="921.00" r="2.95" fill="#FFC000"/>
<circle cx="150.00" cy="924.50" r="2.95" fill="#FFC000"/>
<circle cx="155.50" cy="863.40" r="2.95" fill="#000000"/>
<circle cx="163.50" cy="859.70" r="2.95" fill="#000000"/>
<circle cx="176.70" cy="850.20" r="2.95" fill="#000000"/>
<circle cx="179.60" cy="864.10" r="2.95" fill="#000000"/>
<circle cx="189.80" cy="854.60" r="2.95" fill="#000000"/>
<circle cx="193.40" cy="854.60" r="2.95" fill="#000000"/>
<circle cx="191.30" cy="867.00" r="2.95" fill="#000000"/>
<circle cx="173.00" cy="867.00" r="2.95" fill="#000000"/>
<circle cx="185.80" cy="873.60" r="2.95" fill="#000000"/>
<circle cx="166.40" cy="875.80" r="2.95" fill="#000000"/>
<circle cx="203.30" cy="885.70" r="2.95" fill="#000000"/>
<circle cx="223.70" cy="846.90" r="2.95" fill="#000000"/>
<circle cx="197.80" cy="853.10" r="2.95" fill="#000000"/>
<circle cx="209.10" cy="855.70" r="2.95" fill="#000000"/>
<circle cx="213.20" cy="855.30" r="2.95" fill="#000000"/>
<circle cx="228.10" cy="855.00" r="2.95" fill="#000000"/>
<circle cx="205.90" cy="866.60" r="2.95" fill="#000000"/>
<circle cx="215.00" cy="867.40" r="2.95" fill="#000000"/>
<circle cx="200.00" cy="871.00" r="2.95" fill="#000000"/>
<circle cx="232.10" cy="872.10" r="2.95" fill="#000000"/>
<circle cx="213.50" cy="877.20" r="2.95" fill="#000000"/>
<circle cx="221.20" cy="876.90" r="2.95" fill="#000000"/>
<circle cx="201.10" cy="875.80" r="2.95" fill="#000000"/>
<circle cx="209.90" cy="882.30" r="2.95" fill="#000000"/>
<circle cx="254.00" cy="845.30" r="2.95" fill="#000000"/>
<circle cx="251.80" cy="857.50" r="2.95" fill="#000000"/>
<circle cx="248.70" cy="882.50" r="2.95" fill="#000000"/>
<circle cx="296.00" cy="862.80" r="2.95" fill="#000000"/>
<circle cx="211.80" cy="827.30" r="2.95" fill="#000000"/>
<circle cx="246.00" cy="808.90" r="2.95" fill="#000000"/>
<circle cx="286.60" cy="771.30" r="2.95" fill="#000000"/>
<circle cx="289.60" cy="793.00" r="2.95" fill="#000000"/>
<circle cx="271.90" cy="819.90" r="2.95" fill="#000000"/>
<circle cx="281.10" cy="822.20" r="2.95" fill="#000000"/>
<circle cx="274.80" cy="837.70" r="2.95" fill="#000000"/>
<circle cx="322.10" cy="833.30" r="2.95" fill="#000000"/>
<circle cx="374.00" cy="774.90" r="2.95" fill="#000000"/>
<circle cx="391.50" cy="779.30" r="2.95" fill="#000000"/>
<circle cx="336.40" cy="838.10" r="2.95" fill="#000000"/>
<circle cx="364.80" cy="830.50" r="2.95" fill="#000000"/>
<circle cx="375.20" cy="839.90" r="2.95" fill="#000000"/>
<circle cx="344.80" cy="753.10" r="2.95" fill="#000000"/>
<circle cx="428.90" cy="786.00" r="2.95" fill="#000000"/>
<circle cx="489.90" cy="786.00" r="2.95" fill="#000000"/>
<circle cx="158.50" cy="861.50" r="2.95" fill="#000000"/>
<circle cx="161.00" cy="866.00" r="2.95" fill="#000000"/>
<circle cx="161.90" cy="868.20" r="2.95" fill="#000000"/>
<circle cx="155.20" cy="876.40" r="2.95" fill="#000000"/>
<circle cx="156.80" cy="884.00" r="2.95" fill="#000000"/>
<circle cx="160.30" cy="891.70" r="2.95" fill="#000000"/>
<path d="M67.00,923.50 L69.00,921.30 L155.00,862.40 L157.00,865.50 L155.50,875.00 L156.00,881.50 L158.50,886.60 L161.00,889.00 L166.00,887.00 L171.50,890.00 L172.00,897.00 L171.00,905.00 L171.00,909.60 L166.00,915.00 L160.00,916.00 L153.50,912.50 L153.00,907.40 L147.60,907.40 L146.90,911.80 L139.60,913.20 L132.30,915.40 L125.00,916.20 L127.50,926.50 L116.00,926.50 L115.00,920.00 L110.00,925.00 L106.00,927.50 L102.00,924.00 L94.00,924.50 L91.50,927.60 L67.00,927.60 Z" fill="#FF0000"/>
<circle cx="69.70" cy="923.54" r="2.95" fill="#FF0000"/>
<circle cx="72.80" cy="921.75" r="2.95" fill="#FF0000"/>
<circle cx="75.72" cy="919.69" r="2.95" fill="#FF0000"/>
<circle cx="78.12" cy="917.12" r="2.95" fill="#FF0000"/>
<circle cx="81.82" cy="915.30" r="2.95" fill="#FF0000"/>
<circle cx="84.75" cy="912.63" r="2.95" fill="#FF0000"/>
<circle cx="87.37" cy="910.76" r="2.95" fill="#FF0000"/>
<circle cx="90.39" cy="909.12" r="2.95" fill="#FF0000"/>
<circle cx="92.93" cy="906.66" r="2.95" fill="#FF0000"/>
<circle cx="96.11" cy="905.47" r="2.95" fill="#FF0000"/>
<circle cx="99.47" cy="902.53" r="2.95" fill="#FF0000"/>
<circle cx="102.46" cy="900.48" r="2.95" fill="#FF0000"/>
<circle cx="105.28" cy="898.43" r="2.95" fill="#FF0000"/>
<circle cx="107.75" cy="897.29" r="2.95" fill="#FF0000"/>
<circle cx="110.88" cy="894.47" r="2.95" fill="#FF0000"/>
<circle cx="114.47" cy="893.23" r="2.95" fill="#FF0000"/>
<circle cx="116.88" cy="891.31" r="2.95" fill="#FF0000"/>
<circle cx="120.05" cy="888.94" r="2.95" fill="#FF0000"/>
<circle cx="122.74" cy="887.22" r="2.95" fill="#FF0000"/>
<circle cx="126.10" cy="885.22" r="2.95" fill="#FF0000"/>
<circle cx="129.23" cy="882.39" r="2.95" fill="#FF0000"/>
<circle cx="131.76" cy="880.20" r="2.95" fill="#FF0000"/>
<circle cx="134.56" cy="878.05" r="2.95" fill="#FF0000"/>
<circle cx="137.65" cy="876.66" r="2.95" fill="#FF0000"/>
<circle cx="140.38" cy="874.72" r="2.95" fill="#FF0000"/>
<circle cx="143.61" cy="872.25" r="2.95" fill="#FF0000"/>
<circle cx="146.96" cy="870.42" r="2.95" fill="#FF0000"/>
<circle cx="149.52" cy="868.39" r="2.95" fill="#FF0000"/>
<circle cx="152.80" cy="865.85" r="2.95" fill="#FF0000"/>
<circle cx="155.98" cy="863.78" r="2.95" fill="#FF0000"/>
<circle cx="157.50" cy="906.50" r="2.95" fill="#FFC000"/>
<circle cx="164.20" cy="864.80" r="2.95" fill="#FF0000"/>
<circle cx="168.60" cy="854.60" r="2.95" fill="#FF0000"/>
<circle cx="171.50" cy="853.10" r="2.95" fill="#FF0000"/>
<circle cx="175.20" cy="852.40" r="2.95" fill="#FF0000"/>
<circle cx="181.00" cy="845.80" r="2.95" fill="#FF0000"/>
<circle cx="184.70" cy="845.10" r="2.95" fill="#FF0000"/>
<circle cx="186.90" cy="848.80" r="2.95" fill="#FF0000"/>
<circle cx="184.00" cy="842.90" r="2.95" fill="#FF0000"/>
<circle cx="188.30" cy="841.50" r="2.95" fill="#FF0000"/>
<circle cx="192.70" cy="842.20" r="2.95" fill="#FF0000"/>
<circle cx="182.10" cy="856.80" r="2.95" fill="#FF0000"/>
<circle cx="190.50" cy="861.20" r="2.95" fill="#FF0000"/>
<circle cx="194.20" cy="860.40" r="2.95" fill="#FF0000"/>
<circle cx="186.10" cy="864.80" r="2.95" fill="#FF0000"/>
<circle cx="173.00" cy="870.70" r="2.95" fill="#FF0000"/>
<circle cx="179.90" cy="872.80" r="2.95" fill="#FF0000"/>
<circle cx="159.10" cy="878.00" r="2.95" fill="#FF0000"/>
<circle cx="165.70" cy="882.30" r="2.95" fill="#FF0000"/>
<circle cx="179.60" cy="882.30" r="2.95" fill="#FF0000"/>
<circle cx="184.00" cy="883.80" r="2.95" fill="#FF0000"/>
<circle cx="191.30" cy="880.90" r="2.95" fill="#FF0000"/>
<circle cx="162.10" cy="886.70" r="2.95" fill="#FF0000"/>
<circle cx="177.40" cy="887.40" r="2.95" fill="#FF0000"/>
<circle cx="186.90" cy="886.70" r="2.95" fill="#FF0000"/>
<circle cx="174.50" cy="891.60" r="2.95" fill="#FF0000"/>
<circle cx="189.80" cy="885.70" r="2.95" fill="#FF0000"/>
<circle cx="194.90" cy="891.60" r="2.95" fill="#FF0000"/>
<circle cx="186.50" cy="894.90" r="2.95" fill="#FF0000"/>
<circle cx="191.60" cy="899.20" r="2.95" fill="#FF0000"/>
<circle cx="174.80" cy="905.80" r="2.95" fill="#FF0000"/>
<circle cx="180.70" cy="909.80" r="2.95" fill="#FF0000"/>
<circle cx="187.60" cy="921.90" r="2.95" fill="#FF0000"/>
<circle cx="151.80" cy="917.10" r="2.95" fill="#FF0000"/>
<circle cx="154.00" cy="921.50" r="2.95" fill="#FF0000"/>
<circle cx="162.80" cy="921.50" r="2.95" fill="#FF0000"/>
<circle cx="157.00" cy="913.50" r="2.95" fill="#FF0000"/>
<circle cx="162.80" cy="914.20" r="2.95" fill="#FF0000"/>
<circle cx="197.80" cy="861.20" r="2.95" fill="#FF0000"/>
<circle cx="223.70" cy="861.20" r="2.95" fill="#FF0000"/>
<circle cx="209.10" cy="874.70" r="2.95" fill="#FF0000"/>
<circle cx="228.10" cy="882.00" r="2.95" fill="#FF0000"/>
<circle cx="198.90" cy="887.40" r="2.95" fill="#FF0000"/>
<circle cx="204.00" cy="888.20" r="2.95" fill="#FF0000"/>
<circle cx="213.20" cy="887.40" r="2.95" fill="#FF0000"/>
<circle cx="198.20" cy="889.40" r="2.95" fill="#FF0000"/>
<circle cx="200.40" cy="895.20" r="2.95" fill="#FF0000"/>
<circle cx="205.90" cy="896.30" r="2.95" fill="#FF0000"/>
<circle cx="215.00" cy="895.20" r="2.95" fill="#FF0000"/>
<circle cx="221.50" cy="899.20" r="2.95" fill="#FF0000"/>
<circle cx="232.10" cy="898.90" r="2.95" fill="#FF0000"/>
<circle cx="209.50" cy="911.60" r="2.95" fill="#FF0000"/>
<circle cx="213.20" cy="915.70" r="2.95" fill="#FF0000"/>
<circle cx="203.70" cy="916.80" r="2.95" fill="#FF0000"/>
<circle cx="271.90" cy="840.40" r="2.95" fill="#FF0000"/>
<circle cx="274.50" cy="857.10" r="2.95" fill="#FF0000"/>
<circle cx="281.10" cy="858.40" r="2.95" fill="#FF0000"/>
<circle cx="252.20" cy="869.80" r="2.95" fill="#FF0000"/>
<circle cx="254.00" cy="871.10" r="2.95" fill="#FF0000"/>
<circle cx="248.70" cy="877.20" r="2.95" fill="#FF0000"/>
<circle cx="297.80" cy="902.90" r="2.95" fill="#FF0000"/>
<circle cx="335.30" cy="888.00" r="2.95" fill="#FF0000"/>
<circle cx="202.40" cy="832.10" r="2.95" fill="#FF0000"/>
<circle cx="211.80" cy="830.70" r="2.95" fill="#FF0000"/>
<circle cx="246.00" cy="815.00" r="2.95" fill="#FF0000"/>
<circle cx="191.30" cy="838.00" r="2.95" fill="#FF0000"/>
<circle cx="194.40" cy="839.60" r="2.95" fill="#FF0000"/>
<circle cx="186.20" cy="841.10" r="2.95" fill="#FF0000"/>
<circle cx="286.60" cy="773.90" r="2.95" fill="#FF0000"/>
<circle cx="289.60" cy="810.10" r="2.95" fill="#FF0000"/>
<circle cx="247.60" cy="815.60" r="2.95" fill="#FF0000"/>
<circle cx="322.10" cy="844.00" r="2.95" fill="#FF0000"/>
<circle cx="344.80" cy="760.00" r="2.95" fill="#FF0000"/>
<circle cx="374.00" cy="813.30" r="2.95" fill="#FF0000"/>
<circle cx="391.50" cy="808.60" r="2.95" fill="#FF0000"/>
<circle cx="429.00" cy="849.10" r="2.95" fill="#FF0000"/>
<circle cx="375.20" cy="878.50" r="2.95" fill="#FF0000"/>
<circle cx="364.70" cy="890.50" r="2.95" fill="#FF0000"/>
<circle cx="105.50" cy="925.40" r="2.95" fill="#FF0000"/>
<circle cx="119.10" cy="923.60" r="2.95" fill="#FF0000"/>
<circle cx="123.00" cy="925.00" r="2.95" fill="#FF0000"/>
<circle cx="130.90" cy="923.20" r="2.95" fill="#FF0000"/>
<circle cx="136.20" cy="922.30" r="2.95" fill="#FF0000"/>
<circle cx="142.70" cy="919.70" r="2.95" fill="#FF0000"/>
<circle cx="144.10" cy="923.60" r="2.95" fill="#FF0000"/>
<circle cx="169.00" cy="883.50" r="2.95" fill="#FF0000"/>
<circle cx="167.50" cy="888.60" r="2.95" fill="#FF0000"/>
<circle cx="166.50" cy="892.70" r="2.95" fill="#FF0000"/>
<circle cx="178.70" cy="880.40" r="2.95" fill="#FF0000"/>
<circle cx="158.30" cy="914.50" r="2.95" fill="#FF0000"/>
<circle cx="164.40" cy="920.70" r="2.95" fill="#FF0000"/>
<circle cx="162.20" cy="923.50" r="2.95" fill="#FF0000"/>
<circle cx="167.30" cy="906.70" r="2.95" fill="#FF0000"/>
<circle cx="170.50" cy="895.00" r="2.95" fill="#FF0000"/>
<circle cx="170.50" cy="902.00" r="2.95" fill="#FF0000"/>
<circle cx="489.90" cy="875.40" r="2.95" fill="#FF0000"/>
<line x1="77" y1="916.3" x2="489.8" y2="737.9" stroke="#000000" stroke-width="1" stroke-dasharray="1 1"/>
<line x1="71" y1="923.7" x2="489.1" y2="761.5" stroke="#FFC000" stroke-width="1" stroke-dasharray="1 1"/>
<line x1="71" y1="919.4" x2="489.1" y2="776.4" stroke="#FF0000" stroke-width="1" stroke-dasharray="1 1"/>
<rect x="561.5" y="694.5" width="121.8" height="80.5" fill="#fff" stroke="#2a2a2a" stroke-width="1"/>
<circle cx="580.20" cy="709.60" r="3.2" fill="#FF0000"/>
<circle cx="580.20" cy="728.40" r="3.2" fill="#FFC000"/>
<circle cx="580.20" cy="745.80" r="3.2" fill="#000000"/>
<line x1="570.00" y1="762.50" x2="591.00" y2="762.50" stroke="#000000" stroke-width="1" stroke-dasharray="1 1"/>
<text transform="translate(4.99,21.28) scale(0.8276,1)" font-size="26.76" font-weight="bold" fill="#000">(</text>
<text transform="translate(14.52,21.64) scale(0.8708,1)" font-size="26.00" font-weight="bold" fill="#000">a</text>
<text transform="translate(30.10,21.28) scale(0.7342,1)" font-size="26.76" font-weight="bold" fill="#000">)</text>
<text transform="translate(24.24,46.70) scale(0.9338,1)" font-size="16.29" font-weight="normal" fill="#000">60%</text>
<text transform="translate(24.24,85.87) scale(0.9338,1)" font-size="16.29" font-weight="normal" fill="#000">50%</text>
<text transform="translate(24.24,125.04) scale(0.9338,1)" font-size="16.29" font-weight="normal" fill="#000">40%</text>
<text transform="translate(24.24,164.21) scale(0.9338,1)" font-size="16.29" font-weight="normal" fill="#000">30%</text>
<text transform="translate(24.24,203.38) scale(0.9338,1)" font-size="16.29" font-weight="normal" fill="#000">20%</text>
<text transform="translate(24.24,242.55) scale(0.9338,1)" font-size="16.29" font-weight="normal" fill="#000">10%</text>
<text transform="translate(32.76,281.72) scale(0.9338,1)" font-size="16.29" font-weight="normal" fill="#000">0%</text>
<text transform="translate(16.90,197.56) rotate(-90) scale(0.9597,1)" font-size="15.80" font-weight="bold" fill="#000">Frequency</text>
<text transform="translate(67.86,300.40) scale(0.9752,1)" font-size="13.57" font-weight="normal" fill="#000">5</text>
<text transform="translate(91.09,300.40) scale(0.9752,1)" font-size="13.57" font-weight="normal" fill="#000">25</text>
<text transform="translate(118.30,300.40) scale(0.9752,1)" font-size="13.57" font-weight="normal" fill="#000">45</text>
<text transform="translate(145.11,300.40) scale(0.9752,1)" font-size="13.57" font-weight="normal" fill="#000">65</text>
<text transform="translate(172.18,300.40) scale(0.9752,1)" font-size="13.57" font-weight="normal" fill="#000">85</text>
<text transform="translate(195.21,300.40) scale(0.9752,1)" font-size="13.57" font-weight="normal" fill="#000">105</text>
<text transform="translate(222.22,300.40) scale(0.9752,1)" font-size="13.57" font-weight="normal" fill="#000">125</text>
<text transform="translate(249.23,300.40) scale(0.9752,1)" font-size="13.57" font-weight="normal" fill="#000">145</text>
<text transform="translate(276.23,300.40) scale(0.9752,1)" font-size="13.57" font-weight="normal" fill="#000">165</text>
<text transform="translate(303.24,300.40) scale(0.9752,1)" font-size="13.57" font-weight="normal" fill="#000">185</text>
<text transform="translate(330.44,300.40) scale(0.9752,1)" font-size="13.57" font-weight="normal" fill="#000">205</text>
<text transform="translate(357.45,300.40) scale(0.9752,1)" font-size="13.57" font-weight="normal" fill="#000">225</text>
<text transform="translate(384.45,300.40) scale(0.9752,1)" font-size="13.57" font-weight="normal" fill="#000">245</text>
<text transform="translate(411.46,300.40) scale(0.9752,1)" font-size="13.57" font-weight="normal" fill="#000">265</text>
<text transform="translate(438.47,300.40) scale(0.9752,1)" font-size="13.57" font-weight="normal" fill="#000">285</text>
<text transform="translate(465.54,300.40) scale(0.9752,1)" font-size="13.57" font-weight="normal" fill="#000">305</text>
<text transform="translate(492.54,300.40) scale(0.9752,1)" font-size="13.57" font-weight="normal" fill="#000">325</text>
<text transform="translate(519.55,300.40) scale(0.9752,1)" font-size="13.57" font-weight="normal" fill="#000">345</text>
<text transform="translate(241.72,323.40) scale(0.9265,1)" font-size="16.67" font-weight="bold" fill="#000">Rainfall (mm day</text>
<text transform="translate(365.60,318.00) scale(0.9857,1)" font-size="10.14" font-weight="bold" fill="#000">-1</text>
<text transform="translate(375.70,323.07) scale(0.9688,1)" font-size="15.85" font-weight="bold" fill="#000">)</text>
<text transform="translate(599.70,61.90) scale(0.9998,1)" font-size="12.86" font-weight="bold" fill="#000">H4X5-MSRN</text>
<text transform="translate(599.70,80.50) scale(0.9998,1)" font-size="12.86" font-weight="bold" fill="#000">D20-MSRN</text>
<text transform="translate(599.70,97.90) scale(0.9998,1)" font-size="12.86" font-weight="bold" fill="#000">linear</text>
<text transform="translate(600.09,115.10) scale(0.9909,1)" font-size="12.86" font-weight="bold" fill="#000">Observation</text>
<text transform="translate(244.38,60.90) scale(0.9846,1)" font-size="10.57" font-weight="normal" fill="#262626">0.5%</text>
<text transform="translate(244.38,93.05) scale(0.9846,1)" font-size="10.57" font-weight="normal" fill="#262626">0.4%</text>
<text transform="translate(244.38,125.20) scale(0.9846,1)" font-size="10.57" font-weight="normal" fill="#262626">0.3%</text>
<text transform="translate(244.38,157.35) scale(0.9846,1)" font-size="10.57" font-weight="normal" fill="#262626">0.2%</text>
<text transform="translate(244.38,189.50) scale(0.9846,1)" font-size="10.57" font-weight="normal" fill="#262626">0.1%</text>
<text transform="translate(244.38,221.65) scale(0.9846,1)" font-size="10.57" font-weight="normal" fill="#262626">0.0%</text>
<text transform="translate(270.06,237.40) scale(1.0247,1)" font-size="10.43" font-weight="normal" fill="#262626">145</text>
<text transform="translate(294.92,237.40) scale(1.0247,1)" font-size="10.43" font-weight="normal" fill="#262626">165</text>
<text transform="translate(319.78,237.40) scale(1.0247,1)" font-size="10.43" font-weight="normal" fill="#262626">185</text>
<text transform="translate(344.80,237.40) scale(1.0247,1)" font-size="10.43" font-weight="normal" fill="#262626">205</text>
<text transform="translate(369.66,237.40) scale(1.0247,1)" font-size="10.43" font-weight="normal" fill="#262626">225</text>
<text transform="translate(394.52,237.40) scale(1.0247,1)" font-size="10.43" font-weight="normal" fill="#262626">245</text>
<text transform="translate(419.38,237.40) scale(1.0247,1)" font-size="10.43" font-weight="normal" fill="#262626">265</text>
<text transform="translate(444.24,237.40) scale(1.0247,1)" font-size="10.43" font-weight="normal" fill="#262626">285</text>
<text transform="translate(469.16,237.40) scale(1.0247,1)" font-size="10.43" font-weight="normal" fill="#262626">305</text>
<text transform="translate(494.02,237.40) scale(1.0247,1)" font-size="10.43" font-weight="normal" fill="#262626">325</text>
<text transform="translate(518.88,237.40) scale(1.0247,1)" font-size="10.43" font-weight="normal" fill="#262626">345</text>
<text transform="translate(2.06,352.93) scale(0.8459,1)" font-size="27.02" font-weight="bold" fill="#000">(</text>
<text transform="translate(10.95,353.60) scale(0.9883,1)" font-size="26.71" font-weight="bold" fill="#000">b</text>
<text transform="translate(28.60,352.93) scale(0.7798,1)" font-size="27.02" font-weight="bold" fill="#000">)</text>
<text transform="translate(32.22,378.80) scale(1.0107,1)" font-size="16.71" font-weight="normal" fill="#000">80</text>
<text transform="translate(32.22,407.55) scale(1.0107,1)" font-size="16.71" font-weight="normal" fill="#000">70</text>
<text transform="translate(32.22,436.30) scale(1.0107,1)" font-size="16.71" font-weight="normal" fill="#000">60</text>
<text transform="translate(32.22,465.05) scale(1.0107,1)" font-size="16.71" font-weight="normal" fill="#000">50</text>
<text transform="translate(32.22,493.80) scale(1.0107,1)" font-size="16.71" font-weight="normal" fill="#000">40</text>
<text transform="translate(32.22,522.55) scale(1.0107,1)" font-size="16.71" font-weight="normal" fill="#000">30</text>
<text transform="translate(32.22,551.30) scale(1.0107,1)" font-size="16.71" font-weight="normal" fill="#000">20</text>
<text transform="translate(32.22,580.05) scale(1.0107,1)" font-size="16.71" font-weight="normal" fill="#000">10</text>
<text transform="translate(41.52,608.80) scale(1.0107,1)" font-size="16.71" font-weight="normal" fill="#000">0</text>
<text transform="translate(25.30,527.10) rotate(-90) scale(0.9844,1)" font-size="15.94" font-weight="bold" fill="#000">MAE (mm)</text>
<text transform="translate(64.81,631.60) scale(0.9901,1)" font-size="16.57" font-weight="normal" fill="#000">0</text>
<text transform="translate(156.04,631.60) scale(0.9901,1)" font-size="16.57" font-weight="normal" fill="#000">50</text>
<text transform="translate(246.87,631.60) scale(0.9901,1)" font-size="16.57" font-weight="normal" fill="#000">100</text>
<text transform="translate(342.62,631.60) scale(0.9901,1)" font-size="16.57" font-weight="normal" fill="#000">150</text>
<text transform="translate(438.62,631.60) scale(0.9901,1)" font-size="16.57" font-weight="normal" fill="#000">200</text>
<text transform="translate(534.37,631.60) scale(0.9901,1)" font-size="16.57" font-weight="normal" fill="#000">250</text>
<text transform="translate(174.00,650.10) scale(0.9687,1)" font-size="16.23" font-weight="bold" fill="#000">Mean observation rainfall (mm day</text>
<text transform="translate(432.71,644.60) scale(0.9776,1)" font-size="9.86" font-weight="bold" fill="#000">-1</text>
<text transform="translate(442.40,649.90) scale(0.9055,1)" font-size="16.17" font-weight="bold" fill="#000">)</text>
<text transform="translate(599.09,394.10) scale(0.9639,1)" font-size="13.43" font-weight="bold" fill="#000">H4X5-MSRN</text>
<text transform="translate(599.09,412.90) scale(0.9694,1)" font-size="13.43" font-weight="bold" fill="#000">D20-MSRN</text>
<text transform="translate(599.10,430.20) scale(0.9583,1)" font-size="13.43" font-weight="bold" fill="#000">linear</text>
<text transform="translate(599.87,447.70) scale(0.9909,1)" font-size="13.43" font-weight="bold" fill="#000">trend</text>
<text transform="translate(1.19,676.09) scale(0.8293,1)" font-size="26.70" font-weight="bold" fill="#000">(</text>
<text transform="translate(10.22,676.85) scale(0.8659,1)" font-size="25.45" font-weight="bold" fill="#000">c</text>
<text transform="translate(23.90,676.09) scale(0.7891,1)" font-size="26.70" font-weight="bold" fill="#000">)</text>
<text transform="translate(26.95,699.60) scale(0.9754,1)" font-size="16.57" font-weight="normal" fill="#000">800</text>
<text transform="translate(26.95,728.38) scale(0.9754,1)" font-size="16.57" font-weight="normal" fill="#000">700</text>
<text transform="translate(26.95,757.15) scale(0.9754,1)" font-size="16.57" font-weight="normal" fill="#000">600</text>
<text transform="translate(26.95,785.92) scale(0.9754,1)" font-size="16.57" font-weight="normal" fill="#000">500</text>
<text transform="translate(26.95,814.70) scale(0.9754,1)" font-size="16.57" font-weight="normal" fill="#000">400</text>
<text transform="translate(26.95,843.48) scale(0.9754,1)" font-size="16.57" font-weight="normal" fill="#000">300</text>
<text transform="translate(26.95,872.25) scale(0.9754,1)" font-size="16.57" font-weight="normal" fill="#000">200</text>
<text transform="translate(26.95,901.02) scale(0.9754,1)" font-size="16.57" font-weight="normal" fill="#000">100</text>
<text transform="translate(44.89,929.80) scale(0.9754,1)" font-size="16.57" font-weight="normal" fill="#000">0</text>
<text transform="translate(23.70,841.16) rotate(-90) scale(0.9417,1)" font-size="16.23" font-weight="bold" fill="#000">AE (mm)</text>
<text transform="translate(64.20,953.00) scale(0.9785,1)" font-size="16.43" font-weight="normal" fill="#000">0</text>
<text transform="translate(135.20,953.00) scale(0.9785,1)" font-size="16.43" font-weight="normal" fill="#000">200</text>
<text transform="translate(215.44,953.00) scale(0.9785,1)" font-size="16.43" font-weight="normal" fill="#000">400</text>
<text transform="translate(295.20,953.00) scale(0.9785,1)" font-size="16.43" font-weight="normal" fill="#000">600</text>
<text transform="translate(375.28,953.00) scale(0.9785,1)" font-size="16.43" font-weight="normal" fill="#000">800</text>
<text transform="translate(450.53,953.00) scale(0.9785,1)" font-size="16.43" font-weight="normal" fill="#000">1000</text>
<text transform="translate(530.53,953.00) scale(0.9785,1)" font-size="16.43" font-weight="normal" fill="#000">1200</text>
<text transform="translate(137.28,970.84) scale(0.9501,1)" font-size="16.34" font-weight="bold" fill="#000">Observation maximum daily rainfall (mm day</text>
<text transform="translate(468.91,965.70) scale(0.9497,1)" font-size="10.14" font-weight="bold" fill="#000">-1</text>
<text transform="translate(479.00,970.34) scale(0.9198,1)" font-size="15.53" font-weight="bold" fill="#000">)</text>
<text transform="translate(598.89,715.20) scale(0.9705,1)" font-size="13.43" font-weight="bold" fill="#000">H4X5-MSRN</text>
<text transform="translate(598.89,734.00) scale(0.9705,1)" font-size="13.43" font-weight="bold" fill="#000">D20-MSRN</text>
<text transform="translate(598.89,751.40) scale(0.9705,1)" font-size="13.43" font-weight="bold" fill="#000">linear</text>
<text transform="translate(599.67,768.40) scale(0.9705,1)" font-size="13.43" font-weight="bold" fill="#000">trend</text>
</svg>
</body></html>
